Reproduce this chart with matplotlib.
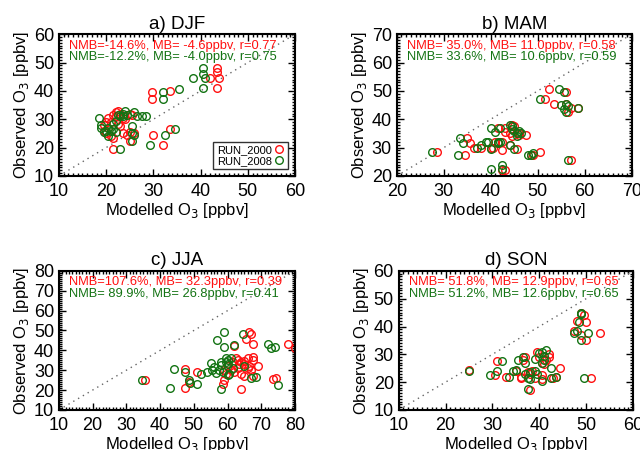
import numpy as np
import matplotlib
matplotlib.use('Agg')
from matplotlib import pyplot as plt
from matplotlib.ticker import MultipleLocator, AutoMinorLocator

plt.rcParams['font.family'] = ['Liberation Sans', 'DejaVu Sans']

# panel a) DJF
djf_red_x = [29.7, 29.7, 33.5, 43.5, 43.5, 44, 43.5, 42, 32, 30, 33.5, 21.5,
             22, 22.5, 23, 21.5, 22, 23.5, 25, 25.5, 20.5, 19.5, 20, 21, 19.5, 20,
             21, 21.5, 23, 23.5, 24.5, 25, 25, 24, 22.5, 26, 20.5]
djf_red_y = [39.5, 37, 40, 48, 46.5, 44.5, 41, 44.5, 21, 24.5, 26.5, 19.5,
             32.5, 33, 32, 31.5, 31, 30.5, 32, 31.5, 30.5, 28, 29, 29, 26, 25,
             24, 23.5, 27.5, 25, 24.5, 22.5, 25.5, 30, 28.5, 25, 27]
djf_grn_x = [40.5, 40.5, 41, 38.5, 40.5, 32, 35.5, 32, 29.3, 32.5, 34.5, 23,
             18.5, 19, 19, 19.5, 20.5, 21, 21.5, 22, 20.5, 22, 23, 23.5, 24, 24.5,
             23.5, 26, 26.5, 27.5, 28.5, 25.5, 25.5, 26, 25.5, 22.5, 21.5, 20]
djf_grn_y = [48, 46, 44.5, 44.5, 41, 39.5, 40.5, 37, 21, 24.5, 26.5, 19.5,
             30.5, 28, 27, 25.5, 24, 26, 26.5, 25.5, 27, 29.5, 31, 32, 33, 31.5,
             31, 32.5, 31, 31, 31, 27.5, 25, 24.5, 22.5, 31.5, 28.5, 26]

# panel b) MAM
mam_red_x = [52.5, 56, 51.5, 53.5, 56, 57, 58.5, 56.5, 57, 50.5, 48.5, 47.5, 44.5,
             45, 43, 43, 41.5, 44, 44.5, 46, 46, 42.5, 41, 40, 40.5, 38, 35, 35.5,
             34.5, 28.5, 42.5, 43, 42.5, 41.5, 45.5, 36.5, 49, 44]
mam_red_y = [50.5, 49.5, 47, 45.5, 45.5, 44, 44, 42.5, 25.5, 28.5, 27.5, 34.5, 38,
             37.5, 37, 35.5, 37, 31, 34, 35, 34.5, 32, 32, 30, 30, 30, 33.5, 31.5,
             27.5, 28.5, 22, 22, 29, 31.5, 29.5, 30, 27.5, 35]
mam_grn_x = [54.5, 55.5, 50.5, 55, 56, 55.5, 56, 56.5, 58.5, 56.5, 48.5, 49, 48,
             40, 41, 42, 44, 44.5, 45, 45.5, 46, 45.5, 41.5, 42, 39, 39.5, 38, 37,
             40, 33.5, 34, 33, 27.5, 40, 42.5, 42.5, 41.5, 44, 45, 46.5, 44.5]
mam_grn_y = [50.5, 49.5, 47, 45, 45.5, 43.5, 42.5, 44.5, 44, 25.5, 27.5, 28, 27.5,
             37, 35.5, 37, 38, 37.5, 36, 35, 36, 34, 32, 32, 32, 32, 31, 30,
             29.5, 33.5, 31.5, 27.5, 28.5, 22.5, 24, 22.5, 31.5, 31, 29.5, 35, 36.5]

# panel c) JJA
jja_red_x = [35.5, 47.5, 47.5, 48.5, 51, 58.5, 59.5, 59, 59, 61, 62, 62.5, 63, 64,
             63, 64, 64, 65, 65, 65, 65.5, 66.5, 67, 67.5, 66, 67.5, 67.5, 66.5,
             67, 67.5, 69, 73.5, 74.5, 78, 80, 60, 62, 63.5, 66, 61.5]
jja_red_y = [25, 30.5, 21, 24, 29, 23, 28, 25, 30, 30, 42, 36, 35, 34,
             31, 28, 20.5, 33, 34.5, 27, 45.5, 49, 48, 43, 36, 36.5, 35, 32,
             30, 27, 32, 25.5, 26, 43, 41, 32, 29, 33, 31, 34]
jja_grn_x = [34.5, 43, 44, 47.5, 48.5, 49, 51, 52, 54, 55, 55.5, 56, 56.5, 57,
             57.5, 58, 58, 58, 59, 59, 59.5, 59.5, 60, 60, 60, 60.5, 61, 61.5,
             62, 64.5, 65, 67, 68.5, 72, 73, 74, 75, 58.5]
jja_grn_y = [25, 21, 30.5, 29, 25, 23.5, 23, 28, 29, 33.5, 30, 31.5, 28.5, 45,
             30, 34, 32.5, 20.5, 49, 41.5, 36, 34, 35, 33, 27.5, 28, 36, 31,
             42.5, 48, 32, 26, 26.5, 43, 41, 41.5, 22.5, 29]

# panel d) SON
son_red_x = [25, 30.5, 31, 33, 35, 36, 36, 36.5, 37, 37.5, 38, 38, 39.5, 40, 40.5,
             41, 41.5, 42, 42, 44.5, 43.5, 43, 40.5, 38.5, 47.5, 48, 49, 49.5, 49,
             50, 50, 51, 53, 40.5, 39]
son_red_y = [24.5, 22.5, 27.5, 22, 24, 22, 21.5, 28, 29, 23.5, 17, 23, 31, 29, 27,
             26.5, 28, 30, 29, 25, 22, 21.5, 21, 24, 38.5, 42, 45, 44, 37,
             41.5, 35, 21.5, 37.5, 22.5, 21.5]
son_grn_x = [25, 29.5, 31, 32, 33.5, 34.5, 35, 35.5, 36.5, 37, 37, 37.5, 38, 38, 39,
             39, 40, 40.5, 41, 41, 40.5, 41.5, 40.5, 42.5, 42.5, 43.5, 47.5, 48,
             48.5, 49, 49, 49, 50.5, 49.5, 37.5, 39.5]
son_grn_y = [24, 22.5, 24, 27.5, 22, 24, 24.5, 28, 29, 27, 23, 17.5, 21, 23.5, 24,
             28.5, 30.5, 31, 29.5, 28, 27, 31.5, 20.5, 25, 21.5, 22, 37.5, 38.5,
             41.5, 44.5, 45, 35, 37.5, 21.5, 21.5, 23]

titles = ['a) DJF', 'b) MAM', 'c) JJA', 'd) SON']
ranges = [(10, 60), (20, 70), (10, 80), (10, 60)]
stats_red = ['NMB=-14.6%, MB= -4.6ppbv, r=0.77',
             'NMB= 35.0%, MB= 11.0ppbv, r=0.58',
             'NMB=107.6%, MB= 32.3ppbv, r=0.39',
             'NMB= 51.8%, MB= 12.9ppbv, r=0.65']
stats_grn = ['NMB=-12.2%, MB= -4.0ppbv, r=0.75',
             'NMB= 33.6%, MB= 10.6ppbv, r=0.59',
             'NMB= 89.9%, MB= 26.8ppbv, r=0.41',
             'NMB= 51.2%, MB= 12.6ppbv, r=0.65']
reds = [(djf_red_x, djf_red_y), (mam_red_x, mam_red_y), (jja_red_x, jja_red_y), (son_red_x, son_red_y)]
grns = [(djf_grn_x, djf_grn_y), (mam_grn_x, mam_grn_y), (jja_grn_x, jja_grn_y), (son_grn_x, son_grn_y)]

RED = '#ff1010'
GRN = '#137313'

#positions des axes (fraction de la figure)
boxes = [[0.092, 0.609, 0.369, 0.315],
         [0.620, 0.609, 0.367, 0.315],
         [0.092, 0.089, 0.369, 0.309],
         [0.623, 0.089, 0.366, 0.309]]

fig = plt.figure(figsize=(6.4, 4.5), dpi=100)

for i in range(4):
    ax = fig.add_axes(boxes[i])
    lo, hi = ranges[i]
    ax.plot([lo, hi], [lo, hi], ls=(0, (1, 3)), color='#666666', lw=1)
    ax.plot(reds[i][0], reds[i][1], 'o', mfc='none', mec=RED, ms=5.5, mew=1, label='RUN_2000')
    ax.plot(grns[i][0], grns[i][1], 'o', mfc='none', mec=GRN, ms=5.5, mew=1, label='RUN_2008')
    ax.set_xlim(lo, hi)
    ax.set_ylim(lo, hi)
    ax.xaxis.set_major_locator(MultipleLocator(10))
    ax.yaxis.set_major_locator(MultipleLocator(10))
    ax.xaxis.set_minor_locator(AutoMinorLocator(10))
    ax.yaxis.set_minor_locator(AutoMinorLocator(10))
    ax.tick_params(which='both', direction='in', top=True, right=True, labelsize=13, width=1)
    ax.tick_params(axis='x', pad=5)
    ax.tick_params(which='major', length=5)
    ax.tick_params(which='minor', length=2.5)
    for s in ax.spines.values():
        s.set_linewidth(1.5)
    ax.set_title(titles[i], fontsize=13.5, pad=4)
    ax.set_xlabel('Modelled O$_3$ [ppbv]', fontsize=12, labelpad=1)
    ax.set_ylabel('Observed O$_3$ [ppbv]', fontsize=12, labelpad=2)
    ax.text(0.042, 0.96, stats_red[i], color=RED, fontsize=9.3, transform=ax.transAxes, va='top')
    ax.text(0.042, 0.88, stats_grn[i], color=GRN, fontsize=9.3, transform=ax.transAxes, va='top')
    if i == 0:
        leg = ax.legend(loc='lower right', markerfirst=False, fontsize=8, frameon=True,
                        fancybox=False, borderpad=0.3, handletextpad=0.2, handlelength=1,
                        labelspacing=0.1, borderaxespad=0.6)
        leg.get_frame().set_edgecolor('black')
        leg.get_frame().set_linewidth(1)

fig.savefig('out.png', dpi=100)
